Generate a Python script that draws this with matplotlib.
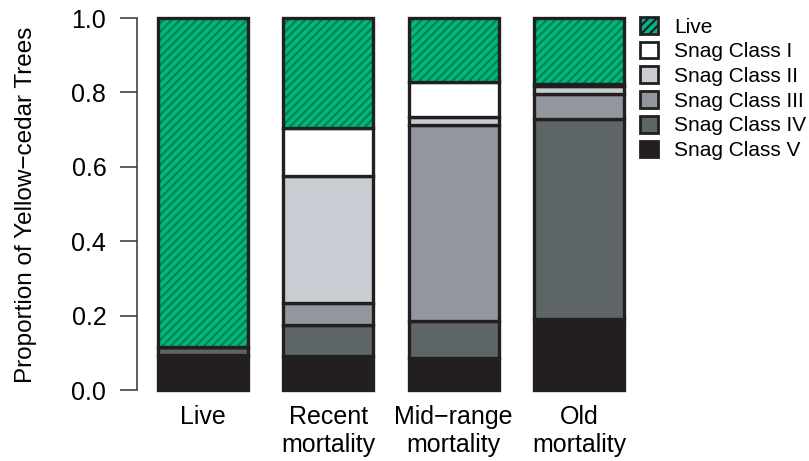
import matplotlib.pyplot as plt
import numpy as np
from matplotlib.patches import Patch

plt.rcParams["font.family"] = ["Liberation Sans", "DejaVu Sans"]
plt.rcParams["hatch.linewidth"] = 1.6

categories = ["Live", "Recent\nmortality", "Mid\u2212range\nmortality", "Old\nmortality"]

# proportion of trees in each condition class, stacked bottom to top
snag_v = [0.093, 0.091, 0.086, 0.191]
snag_iv = [0.023, 0.084, 0.099, 0.537]
snag_iii = [0.0, 0.059, 0.527, 0.068]
snag_ii = [0.0, 0.341, 0.022, 0.021]
snag_i = [0.0, 0.129, 0.094, 0.006]
live = [0.884, 0.296, 0.172, 0.177]

classes = ["Snag Class V", "Snag Class IV", "Snag Class III", "Snag Class II", "Snag Class I", "Live"]
fills = ["#231f20", "#5e6567", "#92979d", "#c9ccd3", "#ffffff", "#00b68a"]
EDGE = "#231f20"
STRIPE = "#00873f"

fig = plt.figure(figsize=(8.09, 4.61), dpi=100)
ax = fig.add_axes([140.3 / 809, 71 / 461, 501.3 / 809, 372 / 461])

x = np.arange(len(categories))
width = 0.717
layers = [snag_v, snag_iv, snag_iii, snag_ii, snag_i, live]
bottom = np.zeros(len(categories))
for name, vals, fc in zip(classes, layers, fills):
    vals = np.asarray(vals)
    if name == "Live":
        # green fill with darker diagonal stripes, outline drawn on top
        ax.bar(x, vals, width, bottom=bottom, color=fc, edgecolor=STRIPE,
               hatch="////", linewidth=0, clip_on=False)
        fc = "none"
    ax.bar(x, vals, width, bottom=bottom, color=fc, edgecolor=EDGE,
           linewidth=2.4, clip_on=False)
    bottom += vals

ax.set_xlim(-0.5, 3.5)
ax.set_ylim(0, 1)
yticks = np.arange(0, 1.01, 0.2)
ax.set_yticks(yticks)
ax.set_yticklabels([f"{v:.1f}" for v in yticks])
ax.set_xticks(x)
ax.set_xticklabels(categories, fontsize=18, linespacing=1.2)
ax.tick_params(axis="x", length=0, pad=11)
ax.tick_params(axis="y", length=12, width=1.1, pad=10, labelsize=18, color="#333333")
for side in ["top", "right", "bottom"]:
    ax.spines[side].set_visible(False)
ax.spines["left"].set_position(("outward", 2.5))
ax.spines["left"].set_linewidth(1.1)
ax.spines["left"].set_color("#333333")

fig.text(26 / 809, 1 - 205 / 461, "Proportion of Yellow\u2212cedar Trees", rotation=90,
         ha="center", va="center", fontsize=17.5)

# legend: Live on top, then snag classes I..V
leg_handles = [Patch(facecolor=fills[5], edgecolor=EDGE, hatch="////", linewidth=2)]
leg_handles += [Patch(facecolor=fills[i], edgecolor=EDGE, linewidth=2) for i in [4, 3, 2, 1, 0]]
leg_labels = ["Live", "Snag Class I", "Snag Class II", "Snag Class III", "Snag Class IV", "Snag Class V"]
fig.legend(leg_handles, leg_labels, loc="upper left", bbox_to_anchor=(640 / 809, 1 - 17 / 461),
           frameon=False, fontsize=15, handlelength=0.85, handleheight=0.85,
           labelspacing=0.25, handletextpad=0.8, borderpad=0, borderaxespad=0)

fig.savefig("out.png", dpi=100)
